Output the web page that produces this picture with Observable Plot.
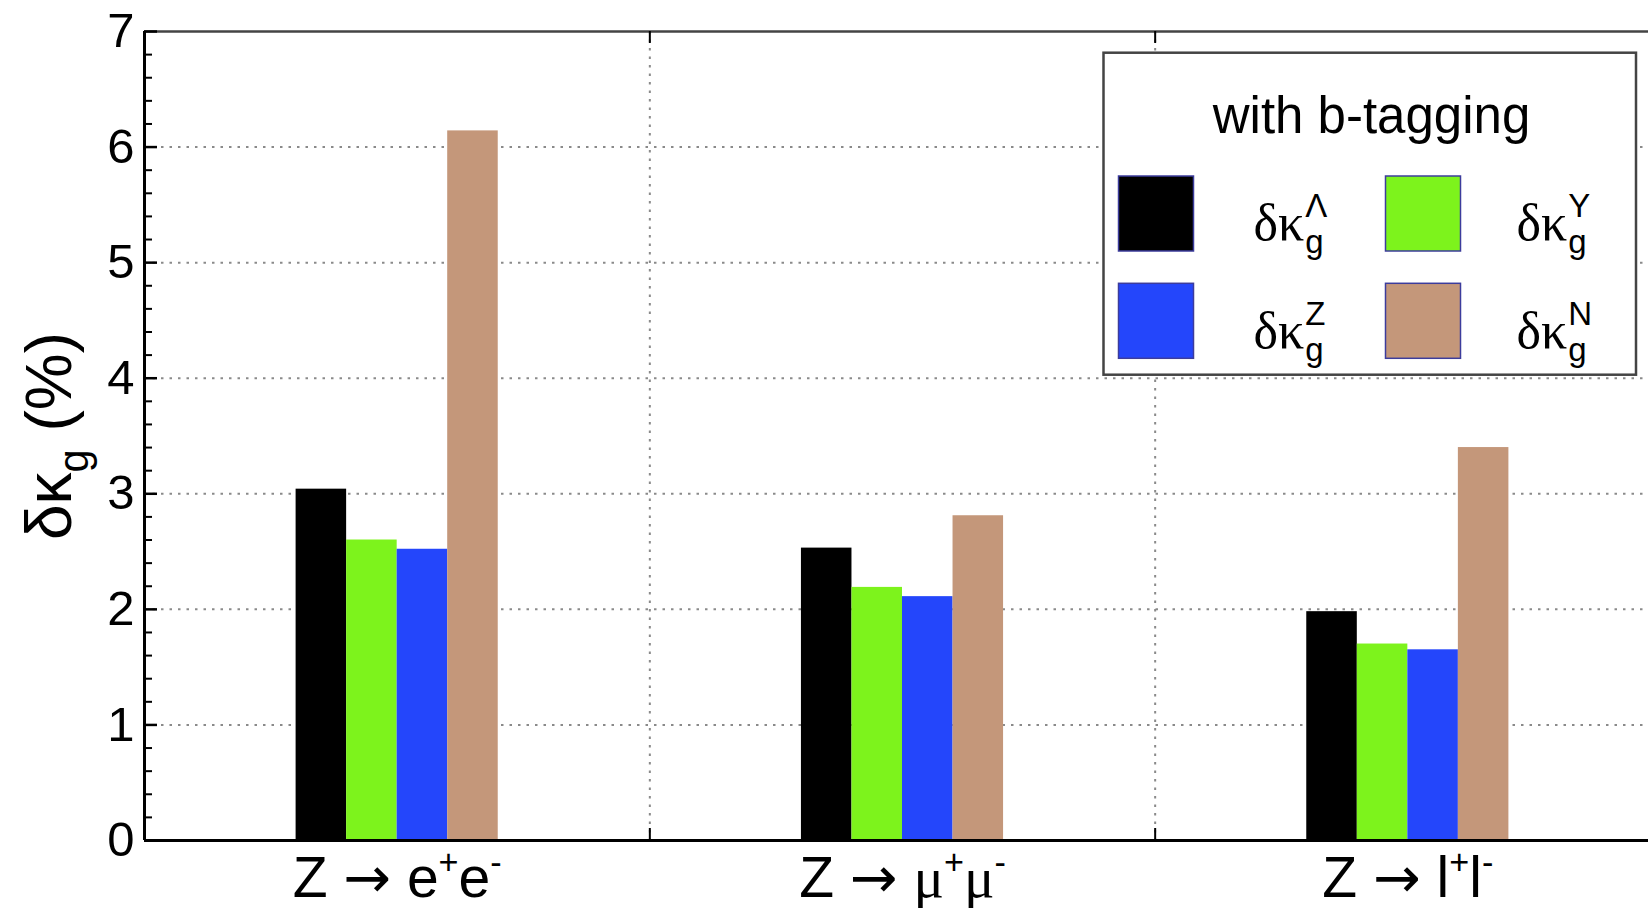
<!DOCTYPE html>
<html>
<head>
<meta charset="utf-8">
<script src="https://cdn.jsdelivr.net/npm/d3@7"></script>
<script src="https://cdn.jsdelivr.net/npm/@observablehq/plot@0.6"></script>
<style>
html, body { margin: 0; padding: 0; background: #ffffff; }
#chart { width: 1648px; height: 908px; overflow: hidden; position: relative; }
</style>
</head>
<body>
<div id="chart"></div>
<script>
// ---------------- data ----------------
const groups = ["Z → e^{+}e^{-}", "Z → μ^{+}μ^{-}", "Z → l^{+}l^{-}"];
const seriesNames = ["Λ", "Y", "Z", "N"];
const seriesColors = ["#000000", "#7df31c", "#2446fb", "#c4977a"];
const valuesLambda = [3.04, 2.53, 1.98];
const valuesY = [2.60, 2.19, 1.70];
const valuesZ = [2.52, 2.11, 1.65];
const valuesN = [6.14, 2.81, 3.40];
const yTicks = [0, 1, 2, 3, 4, 5, 6, 7];
const yLabel = "δκ_{g} (%)";
const legendTitle = "with b-tagging";
const legendStem = "δκ";
const legendSub = "g";

(function () {
// ---------------- table ----------------
const seriesValues = [valuesLambda, valuesY, valuesZ, valuesN];
const barW = 0.1;
const table = [];
groups.forEach((g, gi) => {
  seriesNames.forEach((s, si) => {
    const start = gi + 1 - (seriesNames.length * barW) / 2 + si * barW;
    table.push({group: g, series: s, value: seriesValues[si][gi], x1: start, x2: start + barW});
  });
});
const xDomain = [0.5, groups.length + 0.5];
const groupBounds = groups.slice(1).map((_, i) => i + 1.5);
const gridY = yTicks.filter(v => v > yTicks[0] && v < yTicks[yTicks.length - 1]);
const minorY = d3.range(1, 35).filter(i => i % 5 !== 0).map(i => i / 5);

const W = 1648, H = 908;
const mLeft = 144, mTop = 31, yBottom = 840, rightRange = 1660;
const frameW = W - mLeft;     // marginRight 0
const frameH = yBottom - mTop;
const SANS = "'Liberation Sans', Arial, Helvetica, sans-serif";
const SERIF = "'Liberation Serif', 'Times New Roman', serif";

const grid = {stroke: "#8a8a8a", strokeWidth: 2, strokeDasharray: "2.5,6"};

const svg = Plot.plot({
  width: W,
  height: H,
  marginLeft: mLeft,
  marginRight: 0,
  marginTop: mTop,
  marginBottom: H - yBottom,
  style: {fontFamily: SANS, background: "#ffffff", color: "#000", overflow: "hidden"},
  x: {type: "linear", domain: xDomain, range: [mLeft, rightRange], axis: null},
  y: {domain: [yTicks[0], yTicks[yTicks.length - 1]], range: [yBottom, mTop], axis: null},
  color: {domain: seriesNames, range: seriesColors},
  marks: [
    Plot.ruleY(gridY, grid),
    Plot.ruleX(groupBounds, grid),
    Plot.rect(table, {x1: "x1", x2: "x2", y1: () => 0, y2: "value", fill: "series"}),
    // frame lines
    Plot.ruleY([yTicks[yTicks.length - 1]], {stroke: "#444", strokeWidth: 2.5}),
    Plot.ruleX([xDomain[0]], {stroke: "#000", strokeWidth: 3}),
    Plot.ruleY([yTicks[0]], {stroke: "#000", strokeWidth: 3}),
    // inward ticks on y axis
    Plot.tickY(yTicks, {stroke: "#000", strokeWidth: 2.5, insetRight: frameW - 13}),
    Plot.tickY(minorY, {stroke: "#000", strokeWidth: 2, insetRight: frameW - 8}),
    // ticks on bottom and top at group boundaries
    Plot.tickX(groupBounds, {stroke: "#000", strokeWidth: 2, insetTop: frameH - 12}),
    Plot.tickX(groupBounds, {stroke: "#000", strokeWidth: 2, insetBottom: frameH - 12}),
    // y tick labels
    Plot.text(yTicks, {x: () => xDomain[0], y: d => d, text: d => String(d), textAnchor: "end", dx: -10, fontSize: 49, fill: "#000"}),
    // x group labels
    Plot.text(groups, {x: (d, i) => i + 1, y: () => 0, text: d => d, lineAnchor: "bottom", dy: 56, fontSize: 57, fill: "#000"}),
    // y axis title
    Plot.text([yLabel], {frameAnchor: "left", text: d => d, rotate: -90, textAnchor: "middle", lineAnchor: "bottom", dx: -74, fontSize: 64, fill: "#000"})
  ]
});

document.getElementById("chart").appendChild(svg);

// ---------- rich text (sub/superscripts, font switches) ----------
const NS = "http://www.w3.org/2000/svg";
function rich(el, base) {
  const s = el.textContent;
  const parts = s.split(/(\^\{[^}]*\}|_\{[^}]*\})/).filter(p => p !== "");
  while (el.firstChild) el.removeChild(el.firstChild);
  let cur = 0;
  for (const p of parts) {
    let target = 0, txt = p, size = null;
    if (p.startsWith("^{")) { target = -0.4 * base; size = 0.6 * base; txt = p.slice(2, -1); }
    else if (p.startsWith("_{")) { target = 0.27 * base; size = 0.65 * base; txt = p.slice(2, -1); }
    const pieces = txt.split(/([→μ])/).filter(q => q !== "");
    pieces.forEach((q, qi) => {
      const t = document.createElementNS(NS, "tspan");
      if (qi === 0) {
        const d = target - cur;
        if (d) t.setAttribute("dy", d);
      }
      if (size) t.setAttribute("font-size", size);
      if (q === "→") t.style.fontFamily = "'DejaVu Sans', sans-serif";
      if (q === "μ") t.style.fontFamily = SERIF;
      t.textContent = q;
      el.appendChild(t);
    });
    cur = target;
  }
}
d3.select(svg).selectAll("text").each(function () {
  if (/[\^_]\{|→/.test(this.textContent)) {
    const base = parseFloat(getComputedStyle(this).fontSize) || 56;
    rich(this, base);
  }
});

// ---------------- legend ----------------
const lg = d3.select(svg).append("g")
  .attr("transform", "translate(1103.5,52.7)")
  .attr("text-anchor", "start");
lg.append("rect").attr("width", 532.5).attr("height", 322)
  .attr("fill", "#fff").attr("stroke", "#444").attr("stroke-width", 2.5);
lg.append("text").attr("x", 268).attr("y", 80).attr("text-anchor", "middle")
  .attr("font-size", 51).attr("fill", "#000").style("font-family", SANS).text(legendTitle);
seriesNames.forEach((s, si) => {
  const col = si % 2, row = Math.floor(si / 2);
  lg.append("rect")
    .attr("x", 15 + col * 267).attr("y", 123.3 + row * 107.3)
    .attr("width", 75).attr("height", 75)
    .attr("fill", seriesColors[si]).attr("stroke", "#3c3c9c").attr("stroke-width", 1.5);
  const lx = 150 + col * 263, ly = 187.3 + row * 108;
  const txt = lg.append("text").attr("x", lx).attr("y", ly).attr("fill", "#000").attr("text-anchor", "start");
  txt.append("tspan").style("font-family", SERIF).attr("font-size", 52).text(legendStem);
  const sub = txt.append("tspan").style("font-family", SANS).attr("font-size", 33).attr("dy", 13).attr("dx", 1).text(legendSub);
  const gw = sub.node().getComputedTextLength();
  txt.append("tspan").style("font-family", SANS).attr("font-size", 33)
    .attr("dy", -36).attr("dx", -gw).text(s);
});
})();
</script>
</body>
</html>
